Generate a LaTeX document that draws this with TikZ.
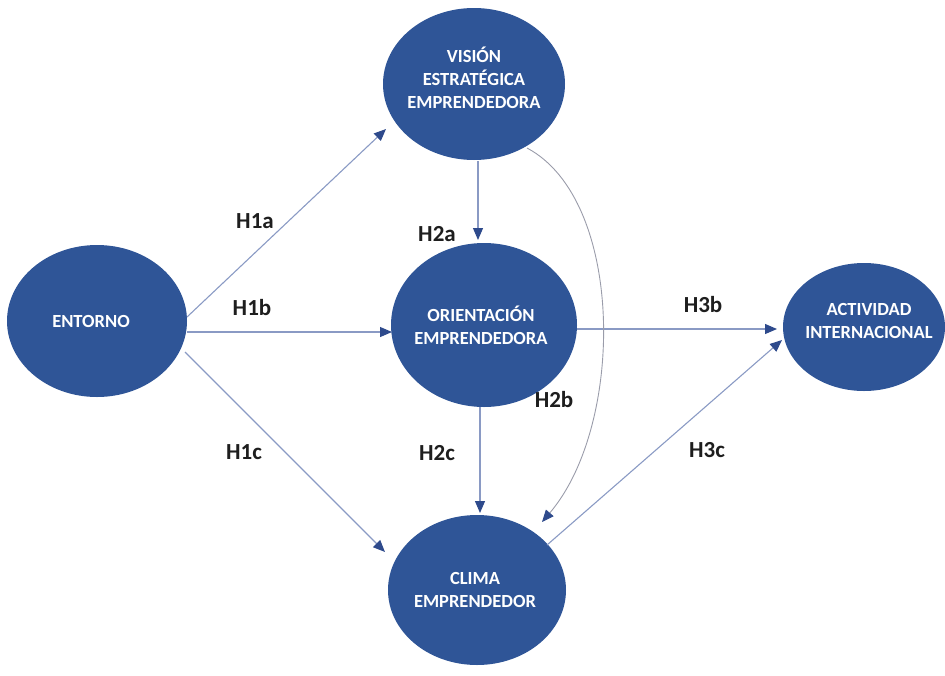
\documentclass[tikz,border=0pt]{standalone}
\usepackage{fontspec}
\setmainfont{Carlito}
\usetikzlibrary{arrows.meta,shapes.geometric,calc}
\definecolor{nodeblue}{HTML}{2F5597}
\definecolor{linkgray}{HTML}{8A9AC4}
\definecolor{curvegray}{HTML}{9A9CAA}
\definecolor{tipblue}{HTML}{2E4A8C}
\definecolor{labelink}{HTML}{1E1E1E}
\begin{document}
\begin{tikzpicture}[x=1pt,y=-1pt,
  bubble/.style={ellipse, fill=nodeblue, draw=none, inner sep=0pt},
  bubbletext/.style={text=white, font=\fontsize{18.5}{23}\selectfont\bfseries, align=center},
  link/.style={draw=linkgray, line width=1.1pt, -{Triangle[length=12pt,width=10pt,color=tipblue]}},
  curvelink/.style={draw=curvegray, line width=0.9pt, -{Triangle[length=12pt,width=10pt,color=tipblue]}},
  hyp/.style={text=labelink, font=\fontsize{23}{26}\selectfont\bfseries}]
\useasboundingbox (0,0) rectangle (945,675);

% constructs
\node[bubble, minimum width=182pt, minimum height=152pt,
  label={[bubbletext, yshift=6pt]center:VISIÓN\\ESTRATÉGICA\\EMPRENDEDORA}] (vis) at (474,84) {};
\node[bubble, minimum width=180pt, minimum height=152pt,
  label={[bubbletext, xshift=-6pt]center:ENTORNO}] (ent) at (97,321) {};
\node[bubble, minimum width=186pt, minimum height=164pt,
  label={[bubbletext, xshift=-3pt]center:ORIENTACIÓN\\EMPRENDEDORA}] (ori) at (484,325) {};
\node[bubble, minimum width=162pt, minimum height=128pt,
  label={[bubbletext, xshift=5pt, yshift=6pt]center:ACTIVIDAD\\INTERNACIONAL}] (act) at (864,327) {};
\node[bubble, minimum width=178pt, minimum height=150pt,
  label={[bubbletext, xshift=-2pt]center:CLIMA\\EMPRENDEDOR}] (cli) at (477,590) {};

% hypothesised paths
\draw[link] ($(ent)+(90,-4)$) -- ($(vis)+(-88,45)$);
\draw[link] ($(ent)+(90,11)$) -- ($(ori)+(-92,7)$);
\draw[link] ($(ent)+(88,31)$) -- ($(cli)+(-92,-38)$);
\draw[link] ($(vis)+(4,77)$) -- ($(ori)+(-6,-85)$);
\draw[link] ($(ori)+(93,4)$) -- ($(act)+(-87,2)$);
\draw[link] ($(ori)+(-4,82)$) -- ($(cli)+(3,-77)$);
\draw[link] ($(cli)+(70,-45)$) -- ($(act)+(-82,13)$);
\draw[curvelink] ($(vis)+(53,64)$) .. controls ($(vis)+(151,116)$) and ($(vis)+(151,341)$) .. ($(cli)+(65,-68)$);

% path labels
\node[hyp] (h1a) at (255,221) {H1a};
\node[hyp] (h1b) at (252,308) {H1b};
\node[hyp] (h1c) at (244,452) {H1c};
\node[hyp] (h2a) at (437,234) {H2a};
\node[hyp] (h2b) at (554,400) {H2b};
\node[hyp] (h2c) at (437,453) {H2c};
\node[hyp] (h3b) at (703,305) {H3b};
\node[hyp] (h3c) at (707,450) {H3c};
\end{tikzpicture}
\end{document}
